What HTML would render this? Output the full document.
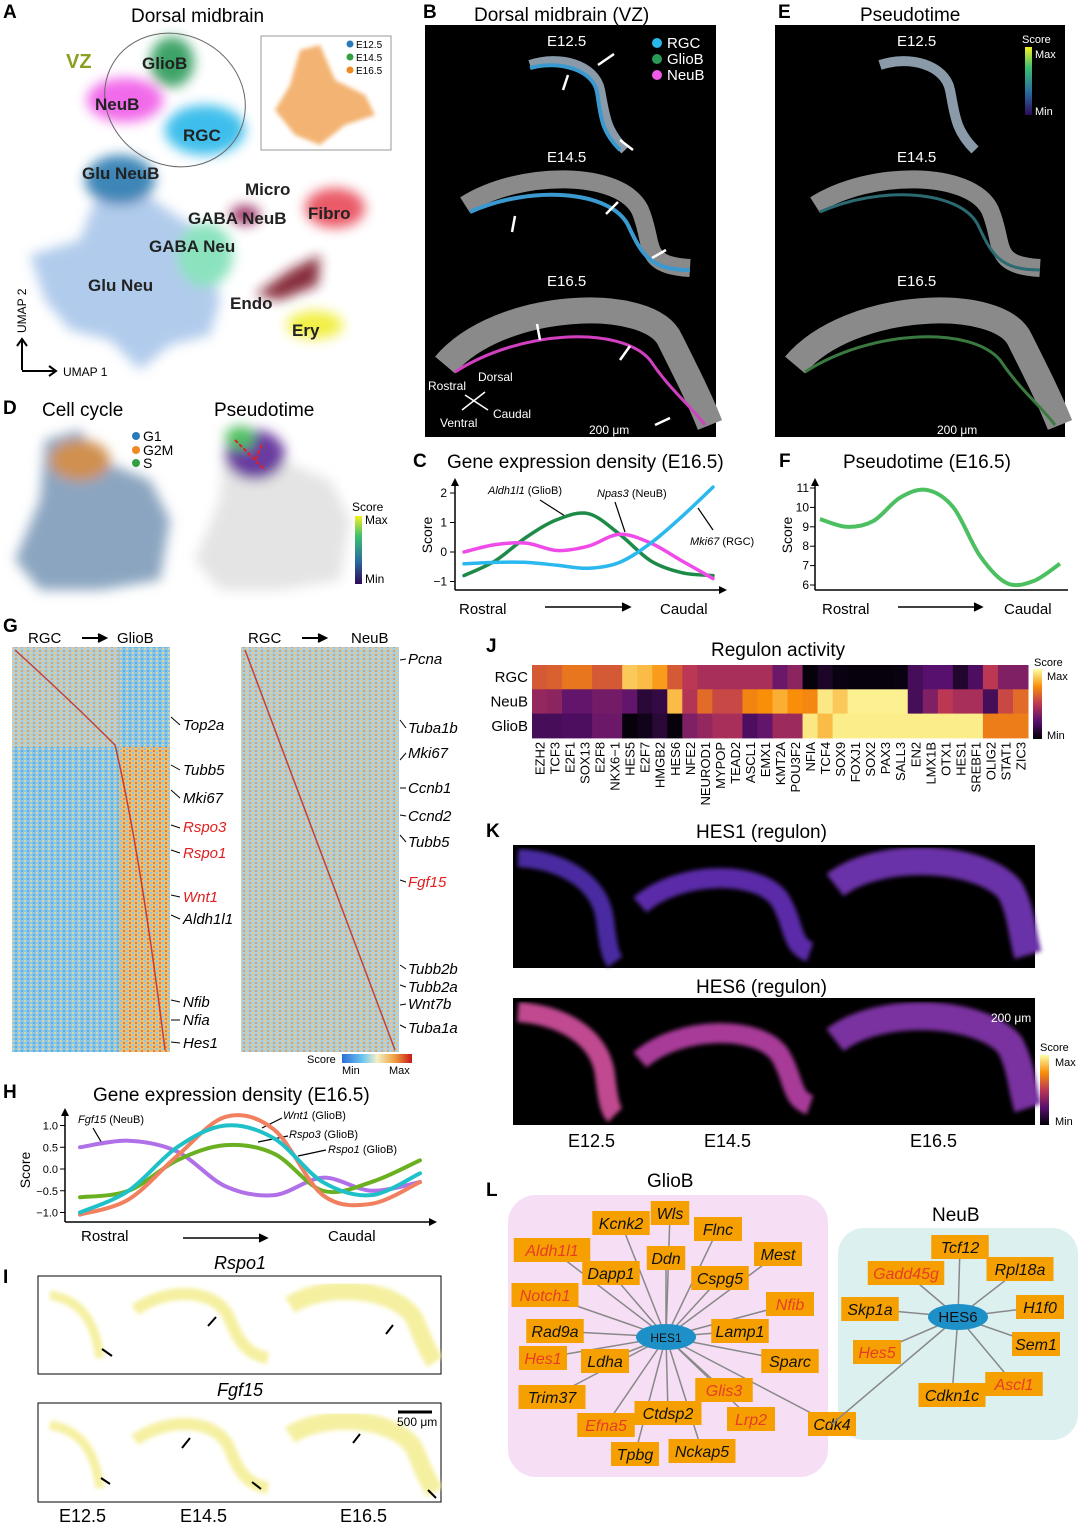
<!DOCTYPE html>
<html><head><meta charset="utf-8"><style>
html,body{margin:0;padding:0;background:#fff}
svg{display:block;font-family:"Liberation Sans",Arial,sans-serif}
.pl{font-size:19px;font-weight:bold}
.t{font-size:19px}
</style></head><body>
<svg id="fig" width="1080" height="1527" viewBox="0 0 1080 1527" xmlns="http://www.w3.org/2000/svg">
<defs>
<filter id="bl" x="-30%" y="-30%" width="160%" height="160%"><feGaussianBlur stdDeviation="6"/></filter>
<filter id="bl2"><feGaussianBlur stdDeviation="2"/></filter>
<linearGradient id="scoreg" x1="0" y1="1" x2="0" y2="0"><stop offset="0" stop-color="#2d0a5a"/><stop offset="0.35" stop-color="#2a6fa0"/><stop offset="0.7" stop-color="#3cbf70"/><stop offset="1" stop-color="#f5f020"/></linearGradient>
<linearGradient id="infg" x1="0" y1="1" x2="0" y2="0"><stop offset="0" stop-color="#000004"/><stop offset="0.25" stop-color="#57106e"/><stop offset="0.5" stop-color="#bc3754"/><stop offset="0.75" stop-color="#f98e09"/><stop offset="1" stop-color="#fcffa4"/></linearGradient>
<linearGradient id="hmg" x1="0" y1="0" x2="1" y2="0"><stop offset="0" stop-color="#2b6fd6"/><stop offset="0.3" stop-color="#6ec6f0"/><stop offset="0.5" stop-color="#f2f0c8"/><stop offset="0.75" stop-color="#f0a040"/><stop offset="1" stop-color="#c81818"/></linearGradient>
<pattern id="hmBlue" width="6" height="4" patternUnits="userSpaceOnUse"><rect width="6" height="4" fill="#8cc6e6"/><rect x="0" y="0" width="2" height="2" fill="#d8d4a8"/><rect x="3" y="2" width="2" height="2" fill="#5eaee0"/></pattern>
<pattern id="hmWarm" width="6" height="4" patternUnits="userSpaceOnUse"><rect width="6" height="4" fill="#e8c078"/><rect x="0" y="0" width="2" height="2" fill="#8cc6e6"/><rect x="3" y="2" width="2" height="2" fill="#e08040"/></pattern>
<pattern id="hmMix" width="6" height="4" patternUnits="userSpaceOnUse"><rect width="6" height="4" fill="#a8d0e0"/><rect x="0" y="0" width="2" height="2" fill="#e8c890"/><rect x="3" y="2" width="2" height="2" fill="#e0a060"/></pattern>
</defs>

<g>
<text x="3" y="18" class="pl">A</text>
<text x="131" y="22" class="t">Dorsal midbrain</text>
<g filter="url(#bl)" opacity="0.9">
<path d="M30,255 L80,240 L95,200 L140,190 L175,215 L200,230 L220,300 L210,335 L170,345 L140,370 L110,340 L70,330 L45,300 Z" fill="#a9c6ea"/>
<ellipse cx="205" cy="255" rx="28" ry="32" fill="#7fe0b8"/>
<ellipse cx="120" cy="180" rx="35" ry="25" fill="#2b7ab0"/>
<ellipse cx="125" cy="100" rx="38" ry="22" fill="#f05ae8"/>
<ellipse cx="172" cy="62" rx="22" ry="25" fill="#2a9a58"/>
<ellipse cx="205" cy="130" rx="40" ry="25" fill="#2ab8ea"/>
<ellipse cx="335" cy="208" rx="30" ry="20" fill="#e84858"/>
<path d="M255,295 L290,270 L320,255 L318,285 L280,300 Z" fill="#7a1428"/>
<ellipse cx="315" cy="325" rx="28" ry="14" fill="#f0ee30"/>
<ellipse cx="245" cy="215" rx="15" ry="10" fill="#9a2a60"/>
</g>
<ellipse cx="175" cy="100" rx="72" ry="65" transform="rotate(30 175 100)" fill="none" stroke="#666" stroke-width="1"/>
<text x="66" y="68" font-size="20" font-weight="bold" fill="#8aa020">VZ</text>
<g font-size="17" font-weight="bold" fill="#222">
<text x="142" y="69">GlioB</text><text x="95" y="110">NeuB</text><text x="183" y="141">RGC</text>
<text x="82" y="179">Glu NeuB</text><text x="245" y="195">Micro</text><text x="188" y="224">GABA NeuB</text>
<text x="308" y="219">Fibro</text><text x="149" y="252">GABA Neu</text><text x="88" y="291">Glu Neu</text>
<text x="230" y="309">Endo</text><text x="292" y="336">Ery</text></g>
<rect x="261" y="36" width="130" height="114" fill="#fff" stroke="#999"/>
<g filter="url(#bl2)"><path d="M275,110 L290,85 L300,50 L320,45 L335,80 L365,95 L375,115 L345,125 L320,145 L295,135 Z" fill="#f0a050" opacity="0.8"/></g>
<circle cx="350" cy="44" r="3.5" fill="#2a7ab8"/><text x="356" y="48" font-size="10">E12.5</text>
<circle cx="350" cy="57" r="3.5" fill="#30a040"/><text x="356" y="61" font-size="10">E14.5</text>
<circle cx="350" cy="70" r="3.5" fill="#f08a20"/><text x="356" y="74" font-size="10">E16.5</text>
<path d="M22,370 L22,340 M17,346 L22,339 L27,346 M22,371 L55,371 M49,366 L56,371 L49,376" stroke="#000" stroke-width="2" fill="none"/>
<text x="63" y="376" font-size="12">UMAP 1</text>
<text x="26" y="333" font-size="12" transform="rotate(-90 26 333)">UMAP 2</text>
</g>

<g>
<text x="423" y="18" class="pl">B</text>
<text x="474" y="21" class="t">Dorsal midbrain (VZ)</text>
<rect x="425" y="25" width="291" height="412" fill="#000"/>
<path d="M530,65 C560,55 595,65 600,90 C605,115 605,130 625,150" stroke="#8a9aa8" stroke-width="10" fill="none"/>
<path d="M530,68 C560,60 593,70 597,92 C601,115 600,130 620,150" stroke="#3a9ad0" stroke-width="4" fill="none"/>
<path d="M465,205 C520,170 620,170 640,210 C655,245 640,265 690,268" stroke="#8a8a8a" stroke-width="18" fill="none"/>
<path d="M470,212 C530,185 610,190 628,225 C642,255 650,270 690,270" stroke="#3a9ad0" stroke-width="4" fill="none"/>
<path d="M445,365 C500,300 650,295 670,340 C690,380 700,400 710,425" stroke="#8a8a8a" stroke-width="26" fill="none"/>
<path d="M455,372 C520,330 620,325 650,360 C670,390 690,405 705,425" stroke="#d040c0" stroke-width="3" fill="none"/>
<g fill="#fff" font-size="15"><text x="547" y="46">E12.5</text><text x="547" y="162">E14.5</text><text x="547" y="286">E16.5</text></g>
<circle cx="657" cy="43" r="5" fill="#2ab8ea"/><text x="667" y="48" font-size="15" fill="#fff">RGC</text>
<circle cx="657" cy="59" r="5" fill="#2a9a58"/><text x="667" y="64" font-size="15" fill="#fff">GlioB</text>
<circle cx="657" cy="75" r="5" fill="#f05ae8"/><text x="667" y="80" font-size="15" fill="#fff">NeuB</text>
<g fill="#fff" font-size="12"><text x="428" y="390">Rostral</text><text x="478" y="381">Dorsal</text><text x="493" y="418">Caudal</text><text x="440" y="427">Ventral</text><text x="589" y="434">200 μm</text></g>
<path d="M462,410 L485,392 M465,395 L488,410" stroke="#fff" stroke-width="1.5"/>
<g stroke="#fff" stroke-width="2.5"><path d="M563,90 L568,75"/><path d="M598,65 L614,54"/><path d="M620,140 L633,150"/><path d="M512,232 L515,216"/><path d="M606,214 L618,202"/><path d="M652,258 L666,250"/><path d="M540,340 L537,324"/><path d="M620,360 L630,346"/><path d="M655,425 L670,418"/></g>
</g>

<g>
<text x="778" y="18" class="pl">E</text>
<text x="860" y="21" class="t">Pseudotime</text>
<rect x="775" y="25" width="290" height="412" fill="#000"/>
<path d="M880,65 C910,55 945,65 950,90 C955,115 955,130 975,150" stroke="#8a9aa8" stroke-width="10" fill="none"/>
<path d="M815,205 C870,170 970,170 990,210 C1005,245 990,265 1040,268" stroke="#8a8a8a" stroke-width="18" fill="none"/>
<path d="M820,212 C880,185 960,190 978,225 C992,255 1000,270 1040,270" stroke="#2a6a70" stroke-width="3" fill="none"/>
<path d="M795,365 C850,300 1000,295 1020,340 C1040,380 1050,400 1060,425" stroke="#8a8a8a" stroke-width="26" fill="none"/>
<path d="M805,372 C870,330 970,325 1000,360 C1020,390 1040,405 1055,425" stroke="#3a7a40" stroke-width="3" fill="none"/>
<g fill="#fff" font-size="15"><text x="897" y="46">E12.5</text><text x="897" y="162">E14.5</text><text x="897" y="286">E16.5</text></g>
<text x="1022" y="43" font-size="11" fill="#fff">Score</text>
<rect x="1025" y="47" width="7" height="68" fill="url(#scoreg)"/>
<text x="1035" y="58" font-size="11" fill="#fff">Max</text><text x="1035" y="115" font-size="11" fill="#fff">Min</text>
<text x="937" y="434" font-size="12" fill="#fff">200 μm</text>
</g>

<g>
<text x="3" y="414" class="pl">D</text>
<text x="42" y="416" class="t">Cell cycle</text>
<text x="214" y="416" class="t">Pseudotime</text>
<g filter="url(#bl)"><path d="M15,560 L40,500 L45,440 L80,430 L100,460 L150,480 L170,520 L160,580 L100,590 L40,590 Z" fill="#6e8fb0" opacity="0.8"/><ellipse cx="80" cy="460" rx="30" ry="20" fill="#d09050"/></g>
<circle cx="136" cy="436" r="4" fill="#2a7ab8"/><text x="143" y="441" font-size="14">G1</text>
<circle cx="136" cy="450" r="4" fill="#f08a20"/><text x="143" y="455" font-size="14">G2M</text>
<circle cx="136" cy="463" r="4" fill="#30a040"/><text x="143" y="468" font-size="14">S</text>
<g filter="url(#bl)"><path d="M195,560 L220,500 L225,440 L260,430 L280,460 L330,480 L350,520 L340,580 L280,590 L220,590 Z" fill="#e4e4e4"/><ellipse cx="255" cy="455" rx="30" ry="25" fill="#6a3aa0"/><ellipse cx="240" cy="438" rx="15" ry="12" fill="#50c060"/></g>
<path d="M235,440 L250,455 L265,470 M262,445 L255,460" stroke="#e02020" stroke-width="2" fill="none" stroke-dasharray="4 2"/>
<text x="352" y="511" font-size="12">Score</text>
<rect x="355" y="516" width="7" height="68" fill="url(#scoreg)"/>
<text x="365" y="524" font-size="12">Max</text><text x="365" y="583" font-size="12">Min</text>
</g>

<g id="chartC">
<text x="413" y="467" class="pl">C</text>
<text x="447" y="468" class="t">Gene expression density (E16.5)</text>
<text x="432" y="535" font-size="14" transform="rotate(-90 432 535)" text-anchor="middle">Score</text>
<line x1="455" y1="480" x2="455" y2="590" stroke="#000" stroke-width="1.5"/>
<path d="M451,486 L455,478 L459,486" fill="#000"/>
<line x1="455" y1="590" x2="725" y2="590" stroke="#000" stroke-width="1.5"/>
<path d="M719,586 L727,590 L719,594" fill="#000"/>
<text x="459" y="614" font-size="15">Rostral</text><text x="660" y="614" font-size="15">Caudal</text>
<path d="M545,607 L628,607 M622,603 L630,607 L622,611" stroke="#000" stroke-width="1.5" fill="#000"/>
<g font-size="11"><text x="488" y="494"><tspan font-style="italic">Aldh1l1</tspan> (GlioB)</text><text x="597" y="497"><tspan font-style="italic">Npas3</tspan> (NeuB)</text><text x="690" y="545"><tspan font-style="italic">Mki67</tspan> (RGC)</text></g>
<g stroke="#000" stroke-width="1.2"><path d="M540,500 L565,516"/><path d="M615,502 L625,532"/><path d="M713,530 L698,508"/></g>
</g>

<g id="chartF">
<text x="779" y="467" class="pl">F</text>
<text x="843" y="468" class="t">Pseudotime (E16.5)</text>
<text x="792" y="535" font-size="14" transform="rotate(-90 792 535)" text-anchor="middle">Score</text>
<line x1="815" y1="480" x2="815" y2="590" stroke="#000" stroke-width="1.5"/>
<path d="M811,486 L815,478 L819,486" fill="#000"/>
<line x1="815" y1="590" x2="1068" y2="590" stroke="#000" stroke-width="1.5"/>
<text x="822" y="614" font-size="15">Rostral</text><text x="1004" y="614" font-size="15">Caudal</text>
<path d="M898,607 L980,607 M974,603 L982,607 L974,611" stroke="#000" stroke-width="1.5" fill="#000"/>
</g>

<g>
<text x="3" y="632" class="pl">G</text>
<text x="28" y="643" font-size="15">RGC</text><path d="M82,638 L104,638 M98,634 L106,638 L98,642" stroke="#000" stroke-width="2" fill="#000"/><text x="117" y="643" font-size="15">GlioB</text>
<text x="248" y="643" font-size="15">RGC</text><path d="M302,638 L324,638 M318,634 L326,638 L318,642" stroke="#000" stroke-width="2" fill="#000"/><text x="351" y="643" font-size="15">NeuB</text>
<rect x="12" y="647" width="107" height="100" fill="url(#hmMix)"/>
<rect x="119" y="647" width="51" height="100" fill="url(#hmBlue)"/>
<rect x="12" y="747" width="107" height="305" fill="url(#hmBlue)"/>
<rect x="119" y="747" width="51" height="305" fill="url(#hmWarm)"/>
<path d="M15,650 Q70,700 115,745 Q140,850 165,1050" stroke="#c02020" stroke-width="1.5" fill="none" opacity="0.8"/>
<rect x="241" y="647" width="158" height="405" fill="url(#hmMix)"/>
<path d="M245,650 Q320,850 395,1050" stroke="#c02020" stroke-width="1.5" fill="none" opacity="0.8"/>
<g font-size="15" font-style="italic">
<text x="183" y="730">Top2a</text><text x="183" y="775">Tubb5</text><text x="183" y="803">Mki67</text>
<text x="183" y="832" fill="#e02020">Rspo3</text><text x="183" y="858" fill="#e02020">Rspo1</text>
<text x="183" y="902" fill="#e02020">Wnt1</text><text x="183" y="924">Aldh1l1</text>
<text x="183" y="1007">Nfib</text><text x="183" y="1025">Nfia</text><text x="183" y="1048">Hes1</text>
<text x="408" y="664">Pcna</text><text x="408" y="733">Tuba1b</text><text x="408" y="758">Mki67</text>
<text x="408" y="793">Ccnb1</text><text x="408" y="821">Ccnd2</text><text x="408" y="847">Tubb5</text>
<text x="408" y="887" fill="#e02020">Fgf15</text><text x="408" y="974">Tubb2b</text><text x="408" y="992">Tubb2a</text>
<text x="408" y="1009">Wnt7b</text><text x="408" y="1033">Tuba1a</text></g>
<g stroke="#000" stroke-width="1"><path d="M171,717 L180,725"/><path d="M171,765 L180,770"/><path d="M171,790 L180,798"/><path d="M171,825 L180,828"/><path d="M171,850 L180,853"/><path d="M171,895 L180,897"/><path d="M171,915 L180,919"/><path d="M171,1000 L180,1002"/><path d="M171,1020 L180,1020"/><path d="M171,1042 L180,1043"/>
<path d="M400,660 L406,659"/><path d="M400,720 L406,728"/><path d="M400,760 L406,753"/><path d="M400,788 L406,788"/><path d="M400,815 L406,816"/><path d="M400,835 L406,842"/><path d="M400,880 L406,882"/><path d="M400,965 L406,969"/><path d="M400,985 L406,987"/><path d="M400,1005 L406,1004"/><path d="M400,1025 L406,1028"/></g>
<text x="307" y="1063" font-size="11">Score</text>
<rect x="342" y="1054" width="70" height="9" fill="url(#hmg)"/>
<text x="342" y="1074" font-size="11">Min</text><text x="389" y="1074" font-size="11">Max</text>
</g>

<g id="chartJ">
<text x="486" y="652" class="pl">J</text>
<text x="711" y="656" class="t">Regulon activity</text>
<text x="1034" y="666" font-size="11">Score</text>
<rect x="1033" y="669" width="9" height="70" fill="url(#infg)"/>
<text x="1047" y="680" font-size="11">Max</text><text x="1047" y="739" font-size="11">Min</text>
</g>

<g>
<text x="486" y="837" class="pl">K</text>
<text x="696" y="838" class="t">HES1 (regulon)</text>
<rect x="513" y="845" width="522" height="123" fill="#000"/>
<g filter="url(#bl2)">
<path d="M518,858 C560,860 600,880 605,920 C608,945 610,955 615,962" stroke="#4a2aa0" stroke-width="18" fill="none"/>
<path d="M640,905 C680,870 760,870 780,900 C795,925 790,945 810,952" stroke="#5a2aa8" stroke-width="20" fill="none"/>
<path d="M835,885 C880,850 980,855 1010,890 C1022,912 1022,935 1028,955" stroke="#6a30a8" stroke-width="28" fill="none"/>
</g>
<text x="696" y="993" class="t">HES6 (regulon)</text>
<rect x="513" y="998" width="522" height="127" fill="#000"/>
<g filter="url(#bl2)">
<path d="M518,1012 C560,1015 600,1035 605,1075 C608,1100 610,1110 615,1115" stroke="#c04890" stroke-width="20" fill="none"/>
<path d="M640,1060 C680,1025 760,1025 780,1055 C795,1080 790,1098 810,1105" stroke="#a83a98" stroke-width="20" fill="none"/>
<path d="M835,1040 C880,1005 980,1010 1010,1045 C1022,1068 1022,1090 1028,1108" stroke="#7a30a0" stroke-width="28" fill="none"/>
</g>
<text x="991" y="1022" font-size="12" fill="#fff">200 μm</text>
<text x="1040" y="1051" font-size="11">Score</text>
<rect x="1040" y="1055" width="9" height="70" fill="url(#infg)"/>
<text x="1055" y="1066" font-size="11">Max</text><text x="1055" y="1125" font-size="11">Min</text>
<g font-size="18"><text x="568" y="1147">E12.5</text><text x="704" y="1147">E14.5</text><text x="910" y="1147">E16.5</text></g>
</g>

<g id="chartH">
<text x="3" y="1098" class="pl">H</text>
<text x="93" y="1101" class="t">Gene expression density (E16.5)</text>
<text x="30" y="1170" font-size="14" transform="rotate(-90 30 1170)" text-anchor="middle">Score</text>
<line x1="65" y1="1110" x2="65" y2="1222" stroke="#000" stroke-width="1.5"/>
<path d="M61,1116 L65,1108 L69,1116" fill="#000"/>
<line x1="65" y1="1222" x2="435" y2="1222" stroke="#000" stroke-width="1.5"/>
<path d="M429,1218 L437,1222 L429,1226" fill="#000"/>
<text x="81" y="1241" font-size="15">Rostral</text><text x="328" y="1241" font-size="15">Caudal</text>
<path d="M183,1238 L265,1238 M259,1234 L267,1238 L259,1242" stroke="#000" stroke-width="1.5" fill="#000"/>
<g font-size="11"><text x="78" y="1123"><tspan font-style="italic">Fgf15</tspan> (NeuB)</text><text x="283" y="1119"><tspan font-style="italic">Wnt1</tspan> (GlioB)</text><text x="289" y="1138"><tspan font-style="italic">Rspo3</tspan> (GlioB)</text><text x="328" y="1153"><tspan font-style="italic">Rspo1</tspan> (GlioB)</text></g>
<g stroke="#000" stroke-width="1.2"><path d="M93,1128 L103,1145"/><path d="M282,1118 L262,1128"/><path d="M288,1136 L258,1142"/><path d="M326,1150 L298,1156"/></g>
</g>

<g>
<text x="3" y="1283" class="pl">I</text>
<text x="240" y="1269" font-size="18" font-style="italic" text-anchor="middle">Rspo1</text>
<rect x="38" y="1276" width="403" height="98" fill="#fff" stroke="#000"/>
<g stroke="#f5f0a0" fill="none" filter="url(#bl2)">
<path d="M50,1295 C80,1300 95,1320 100,1358" stroke-width="9"/>
<path d="M135,1310 C170,1285 220,1290 230,1320 C240,1345 250,1355 268,1358" stroke-width="12"/>
<path d="M290,1305 C330,1280 400,1290 415,1320 C425,1345 430,1355 435,1362" stroke-width="18"/></g>
<text x="240" y="1396" font-size="18" font-style="italic" text-anchor="middle">Fgf15</text>
<rect x="38" y="1403" width="403" height="99" fill="#fff" stroke="#000"/>
<g stroke="#f5f0a0" fill="none" filter="url(#bl2)">
<path d="M50,1425 C80,1430 95,1450 100,1488" stroke-width="9"/>
<path d="M135,1440 C170,1415 220,1420 230,1450 C240,1475 250,1485 268,1488" stroke-width="12"/>
<path d="M290,1435 C330,1410 400,1420 415,1450 C425,1475 430,1485 435,1492" stroke-width="18"/></g>
<path d="M398,1412 L432,1412" stroke="#000" stroke-width="3"/><text x="397" y="1426" font-size="12">500 μm</text>
<g stroke="#000" stroke-width="2"><path d="M112,1356 L102,1349"/><path d="M208,1326 L216,1317"/><path d="M386,1334 L393,1325"/><path d="M110,1484 L101,1478"/><path d="M182,1448 L190,1438"/><path d="M261,1489 L252,1482"/><path d="M353,1443 L360,1434"/><path d="M436,1498 L428,1490"/></g>
<g font-size="18"><text x="59" y="1522">E12.5</text><text x="180" y="1522">E14.5</text><text x="340" y="1522">E16.5</text></g>
</g>

<g id="netL">
<text x="486" y="1196" class="pl">L</text>
<text x="647" y="1187" class="t">GlioB</text>
<text x="932" y="1221" class="t">NeuB</text>
<rect x="508" y="1195" width="320" height="282" rx="28" fill="#f6def4"/>
<rect x="838" y="1228" width="240" height="212" rx="26" fill="#dcf0f0"/>
</g>
</svg>
<script>
var svg=document.getElementById('fig');var NS='http://www.w3.org/2000/svg';
function mk(t,a,p){var e=document.createElementNS(NS,t);for(var k in a)e.setAttribute(k,a[k]);(p||svg).appendChild(e);return e;}
function smooth(pts){var d='M'+pts[0][0]+','+pts[0][1];for(var i=0;i<pts.length-1;i++){var p0=pts[i-1]||pts[i],p1=pts[i],p2=pts[i+1],p3=pts[i+2]||p2;d+=' C'+(p1[0]+(p2[0]-p0[0])/6)+','+(p1[1]+(p2[1]-p0[1])/6)+' '+(p2[0]-(p3[0]-p1[0])/6)+','+(p2[1]-(p3[1]-p1[1])/6)+' '+p2[0]+','+p2[1];}return d;}

var cTicks=[2,1,0,-1];
var cAldh1l1=[-0.8,-0.3,0.5,1.1,1.3,0.6,-0.3,-0.7,-0.8];
var cNpas3=[0.0,0.25,0.3,0.05,0.2,0.6,0.3,-0.3,-0.9];
var cMki67=[-0.4,-0.35,-0.35,-0.45,-0.55,-0.35,0.3,1.2,2.2];
var fTicks=[11,10,9,8,7,6];
var fPseudo=[9.4,9.0,9.3,10.5,10.9,10.0,7.5,6.1,6.2,7.1];
var hTicks=[1.0,0.5,0.0,-0.5,-1.0];
var hTickLabels=['1.0','0.5','0.0','\u22120.5','\u22121.0'];
var hFgf15=[0.5,0.65,0.4,-0.4,-0.6,-0.2,-0.5,-0.3];
var hWnt1=[-1.05,-0.7,0.3,1.2,0.9,-0.6,-0.8,-0.3];
var hRspo3=[-1.0,-0.5,0.5,1.0,0.7,-0.3,-0.6,-0.1];
var hRspo1=[-0.65,-0.5,0.2,0.55,0.35,-0.5,-0.3,0.2];
var jRows=['RGC','NeuB','GlioB'];
var jCols=['EZH2','TCF3','E2F1','SOX13','E2F8','NKX6\u22121','HES5','E2F7','HMGB2','HES6','NFE2','NEUROD1','MYPOP','TEAD2','ASCL1','EMX1','KMT2A','POU3F2','NFIA','TCF4','SOX9','FOXJ1','SOX2','PAX3','SALL3','EN2','LMX1B','OTX1','HES1','SREBF1','OLIG2','STAT1','ZIC3'];
var jRGC=[.6,.62,.68,.68,.6,.6,.88,.85,.78,.6,.5,.45,.45,.45,.45,.45,.3,.38,.02,.08,.03,.02,.02,.02,.03,.2,.25,.25,.1,.22,.5,.35,.35];
var jNeuB=[.4,.38,.28,.28,.32,.32,.28,.12,.15,.85,.48,.65,.55,.55,.72,.75,.82,.75,.73,.95,.88,.97,.97,.97,.97,.2,.35,.5,.45,.45,.2,.55,.65];
var jGlioB=[.2,.2,.22,.22,.3,.3,.02,.05,.12,.02,.35,.4,.45,.45,.22,.28,.42,.42,.95,.85,.96,.96,.96,.96,.96,.96,.96,.96,.96,.96,.7,.7,.7];

function lineChart(g,x0,x1,y0v,ppu,series,colors,w){
  series.forEach(function(s,si){var pts=s.map(function(v,i){return [x0+(x1-x0)*i/(s.length-1),y0v-v*ppu];});
    var p=mk('path',{d:smooth(pts),fill:'none',stroke:colors[si],'stroke-width':w,'stroke-linecap':'round'},g);
    
    });
}
var gC=document.getElementById('chartC');
var cY=function(v){return 552-v*29.5;};
cTicks.forEach(function(t){mk('line',{x1:450,x2:455,y1:cY(t),y2:cY(t),stroke:'#000'},gC);var tx=mk('text',{x:447,y:cY(t)+4,'font-size':12,'text-anchor':'end'},gC);tx.textContent=t<0?'\u2212'+(-t):t;
  
  });
lineChart(gC,464,713,552,29.5,[cAldh1l1,cNpas3,cMki67],['#1e8a48','#ee4be8','#2ab8ee'],3.5);
var gF=document.getElementById('chartF');
var fY=function(v){return 585-(v-6)*19.4;};
fTicks.forEach(function(t){mk('line',{x1:810,x2:815,y1:fY(t),y2:fY(t),stroke:'#000'},gF);var tx=mk('text',{x:809,y:fY(t)+4,'font-size':12,'text-anchor':'end'},gF);tx.textContent=t;
  
  });
var fpts=fPseudo.map(function(v,i){return [820+240*i/(fPseudo.length-1),fY(v)];});
var fl=mk('path',{d:smooth(fpts),fill:'none',stroke:'#4cc060','stroke-width':4},gF);


var gH=document.getElementById('chartH');
hTicks.forEach(function(t,i){var y=1169-t*43.5;mk('line',{x1:60,x2:65,y1:y,y2:y,stroke:'#000'},gH);var tx=mk('text',{x:58,y:y+4,'font-size':11,'text-anchor':'end'},gH);tx.textContent=hTickLabels[i];
  
  });
lineChart(gH,80,420,1169,43.5,[hFgf15,hRspo1,hWnt1,hRspo3],['#b070e8','#6ab020','#f08060','#20c0c8'],4);
function inferno(v){var s=[[0,[0,0,4]],[0.25,[87,16,110]],[0.5,[188,55,84]],[0.75,[249,142,9]],[1,[252,255,164]]];for(var i=0;i<s.length-1;i++){if(v<=s[i+1][0]){var f=(v-s[i][0])/(s[i+1][0]-s[i][0]);var c=s[i][1].map(function(a,k){return Math.round(a+(s[i+1][1][k]-a)*f);});return 'rgb('+c+')';}}return 'rgb(252,255,164)';}
var gJ=document.getElementById('chartJ');
var jX0=532,jW=496/jCols.length,jY0=665,jH=24.3;
[jRGC,jNeuB,jGlioB].forEach(function(row,r){
  var lb=mk('text',{x:528,y:jY0+jH*r+jH/2+5,'font-size':15,'text-anchor':'end'},gJ);lb.textContent=jRows[r];
  
  
  row.forEach(function(v,c){var cell=mk('rect',{x:jX0+c*jW,y:jY0+r*jH,width:jW+0.5,height:jH+0.5,fill:inferno(v)},gJ);
    
    });});
jCols.forEach(function(n,c){var x=jX0+c*jW+jW/2+5,y=jY0+3*jH+4;var t=mk('text',{x:x,y:y,'font-size':13,'text-anchor':'end',transform:'rotate(-90 '+x+' '+y+')'},gJ);t.textContent=n;
  
  });
var gL=document.getElementById('netL');
var glio=[['Kcnk2',621,1223,0],['Wls',670,1213,0],['Flnc',718,1229,0],['Aldh1l1',552,1250,1],['Ddn',666,1258,0],['Mest',778,1254,0],['Dapp1',611,1273,0],['Cspg5',720,1278,0],['Notch1',545,1295,1],['Nfib',790,1304,1],['Rad9a',555,1331,0],['Lamp1',740,1331,0],['Hes1',543,1358,1],['Ldha',605,1361,0],['Sparc',790,1361,0],['Glis3',724,1390,1],['Trim37',552,1397,0],['Ctdsp2',668,1413,0],['Lrp2',751,1419,1],['Cdk4',832,1424,0],['Efna5',606,1425,1],['Tpbg',635,1454,0],['Nckap5',702,1451,0]];
var neub=[['Tcf12',960,1247,0],['Gadd45g',906,1273,1],['Rpl18a',1020,1269,0],['Skp1a',870,1309,0],['H1f0',1040,1307,0],['Sem1',1036,1344,0],['Hes5',877,1352,1],['Ascl1',1014,1384,1],['Cdkn1c',952,1395,0]];
function net(nodes,cx,cy,label){
  nodes.forEach(function(n){mk('line',{x1:cx,y1:cy,x2:n[1],y2:n[2],stroke:'#888','stroke-width':1.5},gL);});
  if(label==='HES6'){mk('line',{x1:cx,y1:cy,x2:832,y2:1424,stroke:'#888','stroke-width':1.5},gL);}
  nodes.forEach(function(n){var w=n[0].length*9.5+10;var r=mk('rect',{x:n[1]-w/2,y:n[2]-12,width:w,height:24,fill:'#f5a000'},gL);
    
    
    var t=mk('text',{x:n[1],y:n[2]+6,'font-size':16,'font-style':'italic','text-anchor':'middle',fill:n[3]?'#e83c28':'#111'},gL);t.textContent=n[0];});
  var e=mk('ellipse',{cx:cx,cy:cy,rx:30,ry:13,fill:'#1e90c8'},gL);
  
  
  var t=mk('text',{x:cx,y:cy+5,'font-size':label==='HES1'?12:15,'text-anchor':'middle',fill:'#111'},gL);t.textContent=label;
}
net(glio,666,1337,'HES1');net(neub,958,1317,'HES6');
</script>
</body></html>
